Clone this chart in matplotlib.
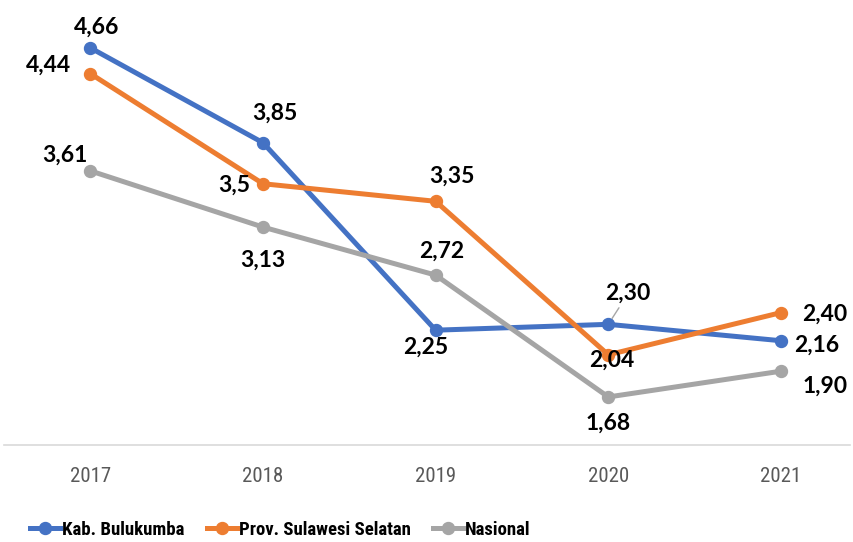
import matplotlib.pyplot as plt
from matplotlib.lines import Line2D

# data
years = ['2017', '2018', '2019', '2020', '2021']
bulukumba = [4.66, 3.85, 2.25, 2.30, 2.16]
sulsel = [4.44, 3.5, 3.35, 2.04, 2.40]
nasional = [3.61, 3.13, 2.72, 1.68, 1.90]
blue_labels = ['4,66', '3,85', '2,25', '2,30', '2,16']
orange_labels = ['4,44', '3,5', '3,35', '2,04', '2,40']
gray_labels = ['3,61', '3,13', '2,72', '1,68', '1,90']
series_names = ['Kab. Bulukumba', 'Prov. Sulawesi Selatan', 'Nasional']

BLUE = '#4472C4'
ORANGE = '#ED7D31'
GRAY = '#A5A5A5'

# label offsets in pixels (dx, dy)
blue_off = [(6, 21), (12, 30), (-10, -17), (20, 31), (36, -4)]
orange_off = [(-42, 8), (-29, -1), (16, 25), (3, -5), (44, -2)]
gray_off = [(-25, 16), (0, -33), (6, 24), (0, -26), (44, -15)]

label_font = ['Lato', 'DejaVu Sans']
narrow_font = ['Roboto Condensed', 'Lato', 'DejaVu Sans']

fig = plt.figure(figsize=(8.54, 5.42), dpi=100)
ax = fig.add_axes([4 / 854, 97 / 542, 846 / 854, 437 / 542])

x = list(range(len(years)))
series = [(bulukumba, BLUE, blue_labels, blue_off),
          (sulsel, ORANGE, orange_labels, orange_off),
          (nasional, GRAY, gray_labels, gray_off)]

for vals, col, labs, offs in series:
    ax.plot(x, vals, color=col, lw=3.6, marker='o', markersize=8.6,
            solid_capstyle='round', solid_joinstyle='round')

for vals, col, labs, offs in series:
    for i, (v, lab, off) in enumerate(zip(vals, labs, offs)):
        kw = {}
        if lab == '2,30':
            kw['arrowprops'] = dict(arrowstyle='-', color='#A6A6A6', lw=1,
                                    shrinkA=1, shrinkB=5)
        ax.annotate(lab, (i, v), xytext=off, textcoords='offset pixels',
                    ha='center', va='center', fontsize=16.5, fontweight='bold',
                    family=label_font, color='#000000', zorder=10, **kw)

ax.set_xlim(-0.5, 4.4)
ax.set_ylim(1.27, 5.0)
ax.set_yticks([])
ax.set_xticks(x)
ax.set_xticklabels(years, family=narrow_font, fontsize=15, color='#595959')
ax.tick_params(axis='x', length=0, pad=16)
for s in ['top', 'right', 'left']:
    ax.spines[s].set_visible(False)
ax.spines['bottom'].set_color('#D9D9D9')
ax.spines['bottom'].set_linewidth(1.2)

handles = [Line2D([], [], color=c, lw=3.6, marker='o', markersize=8.6)
           for c in [BLUE, ORANGE, GRAY]]
fig.legend(handles, series_names, loc='center left',
           bbox_to_anchor=(30 / 854, 12 / 542), ncol=3, frameon=False,
           prop={'family': narrow_font, 'size': 13.5, 'weight': 'bold'},
           handlelength=1.6, handletextpad=0.1, columnspacing=1.2,
           borderpad=0, borderaxespad=0)

fig.savefig('out.png', dpi=100)
